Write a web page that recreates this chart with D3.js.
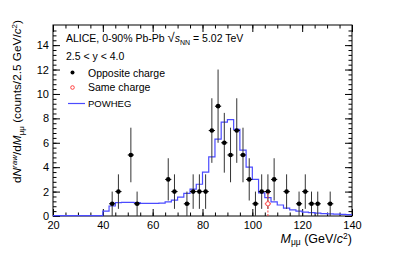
<!DOCTYPE html>
<html>
<head>
<meta charset="utf-8">
<script src="https://cdn.jsdelivr.net/npm/d3@7"></script>
<style>
  body { margin: 0; background: #fff; }
  svg { font-family: "Liberation Sans", Arial, sans-serif; }
</style>
</head>
<body>
<svg width="399" height="255"></svg>
<script>
// opposite-charge dimuon counts, 2.5 GeV bins (bin centres)
var oppMass = [43.75, 46.25, 51.25, 53.75, 66.25, 68.75, 73.75, 76.25, 78.75, 81.25, 83.75, 86.25, 88.75,
               91.25, 93.75, 96.25, 98.75, 101.25, 103.75, 106.25, 108.75, 113.75, 118.75, 121.25, 123.75,
               126.25, 131.25];
var oppCounts = [1, 2, 5, 1, 3, 2, 1, 2, 2, 2, 7, 9, 6, 5, 7, 5, 3, 1, 2, 2, 3, 2, 1, 2, 1, 1, 1];

// same-charge pairs
var sameMass = [106.25];
var sameCounts = [1];

// POWHEG histogram (bin edges + contents)
var powhegEdges = [20, 40, 42.5, 45, 47.5, 50, 52.5, 55, 57.5, 60, 62.5, 65, 67.5, 70, 72.5, 75, 77.5, 80,
                   82.5, 85, 87.5, 90, 92.5, 95, 97.5, 100, 102.5, 105, 107.5, 110, 112.5, 115, 117.5, 120,
                   122.5, 125, 127.5, 130, 132.5, 135, 137.5, 140];
var powhegValues = [0.03, 0.4, 0.82, 1.1, 1.12, 1.12, 1.1, 1.03, 1.03, 1.03, 1.05, 1.15, 1.3, 1.55, 1.85,
                    2.2, 2.6, 3.6, 4.85, 6.3, 7.7, 7.9, 7.1, 5.4, 4.0, 3.0, 1.9, 1.5, 1.15, 0.9, 0.65, 0.5,
                    0.4, 0.32, 0.28, 0.24, 0.2, 0.18, 0.15, 0.13, 0.12];

var xTicks = [20, 40, 60, 80, 100, 120, 140];
var yTicks = [0, 2, 4, 6, 8, 10, 12, 14];
var binWidth = 2.5;

var svg = d3.select("svg"),
    margin = {top: 25, right: 47, bottom: 39, left: 53},
    width = +svg.attr("width") - margin.left - margin.right,
    height = +svg.attr("height") - margin.top - margin.bottom,
    g = svg.append("g").attr("transform", "translate(" + margin.left + "," + margin.top + ")");

var x = d3.scaleLinear().domain([20, 140]).range([0, width]);
var y = d3.scaleLinear().domain([0, 15.65]).range([height, 0]);

var blue = "#4b4bff", red = "#ff4040";

// minor ticks (ROOT style, inside the frame on all four sides)
var xMinor = d3.range(20, 140.01, 5), yMinor = d3.range(0, 15.6, 0.4);
function tickAxis(axis, scale, vals, size, tr) {
  g.append("g")
      .attr("transform", tr || null)
      .call(axis(scale).tickValues(vals).tickSize(size).tickFormat(""))
      .call(function(s) { s.select(".domain").remove(); s.selectAll("line").attr("stroke", "#000"); });
}
tickAxis(d3.axisBottom, x, xMinor, -3.5, "translate(0," + height + ")");
tickAxis(d3.axisBottom, x, xTicks, -7, "translate(0," + height + ")");
tickAxis(d3.axisTop, x, xMinor, -3.5);
tickAxis(d3.axisTop, x, xTicks, -7);
tickAxis(d3.axisLeft, y, yMinor, -3.5);
tickAxis(d3.axisLeft, y, yTicks, -7);
tickAxis(d3.axisRight, y, yMinor, -3.5, "translate(" + width + ",0)");
tickAxis(d3.axisRight, y, yTicks, -7, "translate(" + width + ",0)");

// tick labels
g.append("g")
    .attr("transform", "translate(0," + height + ")")
    .call(d3.axisBottom(x).tickValues(xTicks).tickSize(0).tickPadding(5))
    .call(function(s) { s.select(".domain").remove(); })
    .selectAll("text").attr("font-size", 11).attr("font-family", "Liberation Sans, Arial, sans-serif");

g.append("g")
    .call(d3.axisLeft(y).tickValues(yTicks).tickSize(0).tickPadding(4))
    .call(function(s) { s.select(".domain").remove(); })
    .selectAll("text").attr("font-size", 11).attr("font-family", "Liberation Sans, Arial, sans-serif");

// frame
g.append("rect")
    .attr("width", width).attr("height", height)
    .attr("fill", "none").attr("stroke", "#000").attr("stroke-width", 1);

// POWHEG step histogram
var stepPts = powhegEdges.map(function(e, i) {
  return [e, powhegValues[Math.min(i, powhegValues.length - 1)]];
});
g.append("path")
    .datum(stepPts)
    .attr("fill", "none")
    .attr("stroke", blue)
    .attr("stroke-width", 1.2)
    .attr("d", d3.line().x(function(d) { return x(d[0]); }).y(function(d) { return y(d[1]); }).curve(d3.curveStepAfter));

// opposite-charge points with sqrt(N) errors
var opp = oppMass.map(function(m, i) { return {m: m, n: oppCounts[i]}; });
var pts = g.append("g").selectAll("g").data(opp).enter().append("g");
pts.append("line")
    .attr("x1", function(d) { return x(d.m); }).attr("x2", function(d) { return x(d.m); })
    .attr("y1", function(d) { return y(d.n - Math.sqrt(d.n)); })
    .attr("y2", function(d) { return y(d.n + Math.sqrt(d.n)); })
    .attr("stroke", "#333").attr("stroke-width", 1);
pts.append("line")
    .attr("x1", function(d) { return x(d.m - binWidth / 2); }).attr("x2", function(d) { return x(d.m + binWidth / 2); })
    .attr("y1", function(d) { return y(d.n); }).attr("y2", function(d) { return y(d.n); })
    .attr("stroke", "#000").attr("stroke-width", 1);
pts.append("circle")
    .attr("cx", function(d) { return x(d.m); })
    .attr("cy", function(d) { return y(d.n); })
    .attr("r", 2.3).attr("fill", "#000");

// same-charge points
var same = sameMass.map(function(m, i) { return {m: m, n: sameCounts[i]}; });
var sp = g.append("g").selectAll("g").data(same).enter().append("g");
sp.append("line")
    .attr("x1", function(d) { return x(d.m); }).attr("x2", function(d) { return x(d.m); })
    .attr("y1", function(d) { return y(d.n - Math.sqrt(d.n)); })
    .attr("y2", function(d) { return y(d.n + Math.sqrt(d.n)); })
    .attr("stroke", red).attr("stroke-width", 1).attr("stroke-dasharray", "2,1.5");
sp.append("line")
    .attr("x1", function(d) { return x(d.m - binWidth / 2); }).attr("x2", function(d) { return x(d.m + binWidth / 2); })
    .attr("y1", function(d) { return y(d.n); }).attr("y2", function(d) { return y(d.n); })
    .attr("stroke", red).attr("stroke-width", 1);
sp.append("circle")
    .attr("cx", function(d) { return x(d.m); })
    .attr("cy", function(d) { return y(d.n); })
    .attr("r", 2.2).attr("fill", "#fff").attr("stroke", red).attr("stroke-width", 1);

// header text and legend
var txt = svg.append("g").attr("font-size", 10.5).attr("fill", "#000");
var t1 = txt.append("text").attr("x", 66).attr("y", 42);
t1.append("tspan").text("ALICE, 0-90% Pb-Pb ");
t1.append("tspan").attr("font-size", 13).text("\u221A");
t1.append("tspan").attr("font-style", "italic").text("s");
t1.append("tspan").attr("font-size", 7).attr("dy", 2.5).text("NN");
t1.append("tspan").attr("dy", -2.5).text(" = 5.02 TeV");
txt.append("text").attr("x", 66).attr("y", 60).text("2.5 < y < 4.0");

svg.append("circle").attr("cx", 72.5).attr("cy", 72.5).attr("r", 2).attr("fill", "#000");
txt.append("text").attr("x", 88).attr("y", 76.5).text("Opposite charge");
svg.append("circle").attr("cx", 72.5).attr("cy", 87.5).attr("r", 1.8)
    .attr("fill", "#fff").attr("stroke", red).attr("stroke-width", 1);
txt.append("text").attr("x", 88).attr("y", 90.5).text("Same charge");
svg.append("line").attr("x1", 68).attr("x2", 85).attr("y1", 103.5).attr("y2", 103.5)
    .attr("stroke", blue).attr("stroke-width", 1.2);
txt.append("text").attr("x", 88).attr("y", 107).attr("font-size", 9.5).text("POWHEG");

// axis titles
var xt = svg.append("text").attr("x", 352).attr("y", 242.5).attr("text-anchor", "end").attr("font-size", 12.5);
xt.append("tspan").attr("font-style", "italic").text("M");
xt.append("tspan").attr("font-size", 8.5).attr("dy", 2.5).text("\u03BC\u03BC");
xt.append("tspan").attr("dy", -2.5).text(" (GeV/");
xt.append("tspan").attr("font-style", "italic").text("c");
xt.append("tspan").attr("font-size", 8.5).attr("dy", -4).text("2");
xt.append("tspan").attr("dy", 4).text(")");

var yt = svg.append("text")
    .attr("transform", "translate(21,20) rotate(-90)")
    .attr("text-anchor", "end").attr("font-size", 11.8);
yt.append("tspan").text("d");
yt.append("tspan").attr("font-style", "italic").text("N");
yt.append("tspan").attr("font-size", 8).attr("font-style", "italic").attr("dy", -4).text("raw");
yt.append("tspan").attr("dy", 4).text("/d");
yt.append("tspan").attr("font-style", "italic").text("M");
yt.append("tspan").attr("font-size", 8).attr("dy", 2.5).text("\u03BC\u03BC");
yt.append("tspan").attr("dy", -2.5).text(" (counts/2.5 GeV/");
yt.append("tspan").attr("font-style", "italic").text("c");
yt.append("tspan").attr("font-size", 8).attr("dy", -4).text("2");
yt.append("tspan").attr("dy", 4).text(")");
</script>
</body>
</html>
